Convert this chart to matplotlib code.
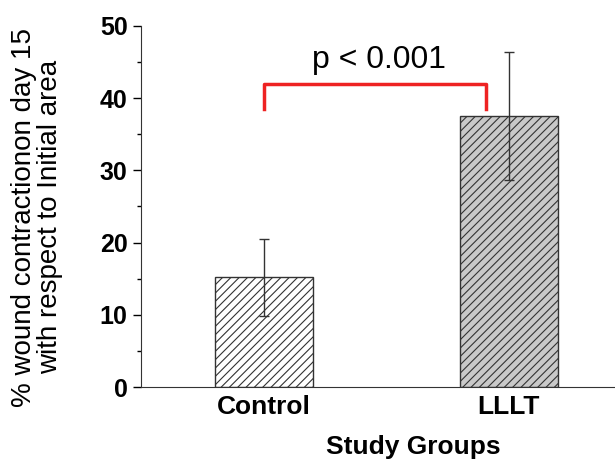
import matplotlib.pyplot as plt
import numpy as np

plt.rcParams['font.family'] = ['Liberation Sans', 'DejaVu Sans']
plt.rcParams['hatch.linewidth'] = 0.8
plt.rcParams['hatch.color'] = '#3a3a3a'

groups = ["Control", "LLLT"]
means = [15.2, 37.5]
errors = [5.3, 8.9]
bar_colors = ["white", "#c9c9c9"]
p_text = "p < 0.001"
bracket_y = [38.5, 41.9]

fig = plt.figure(figsize=(6.15, 4.63), dpi=100)
ax = fig.add_axes([0.229, 0.164, 0.771, 0.780])

x = np.arange(len(groups))
ax.bar(x, means, width=0.4, color=bar_colors, edgecolor="#333333",
       linewidth=1.0, hatch="////", zorder=2)
ax.errorbar(x, means, yerr=errors, fmt="none", ecolor="#333333",
            elinewidth=1.0, capsize=3.5, capthick=1.0, zorder=3)

# significance bracket
bx = [x[0], x[0], 0.906, 0.906]
by = [bracket_y[0], bracket_y[1], bracket_y[1], bracket_y[0]]
ax.plot(bx, by, color="#ee2222", linewidth=2.5, solid_joinstyle="round", zorder=4)
ax.text(0.47, 45.3, p_text, ha="center", va="center", fontsize=23)

ax.set_xlim(-0.502, 1.433)
ax.set_ylim(0, 50)
ax.set_yticks(np.arange(0, 51, 10))
ax.set_yticks(np.arange(0, 51, 5), minor=True)
ax.set_xticks(x)
ax.set_xticklabels(groups, fontsize=19, fontweight="bold")
ax.tick_params(axis="x", length=0, pad=6)
ax.tick_params(axis="y", which="major", length=6, width=1, labelsize=18, direction="out")
ax.tick_params(axis="y", which="minor", length=3, width=1, direction="out")
for lab in ax.get_yticklabels():
    lab.set_fontweight("bold")

ax.spines["top"].set_visible(False)
ax.spines["right"].set_visible(False)
ax.spines["left"].set_color("#333333")
ax.spines["bottom"].set_color("#333333")

ax.set_xlabel("Study Groups", fontsize=19, fontweight="bold")
ax.xaxis.set_label_coords(0.574, -0.133)
ax.set_ylabel("% wound contractionon day 15\nwith respect to Initial area", fontsize=20,
              linespacing=1.0)
ax.yaxis.set_label_coords(-0.164, 0.47)

fig.savefig("out.png", dpi=100)
